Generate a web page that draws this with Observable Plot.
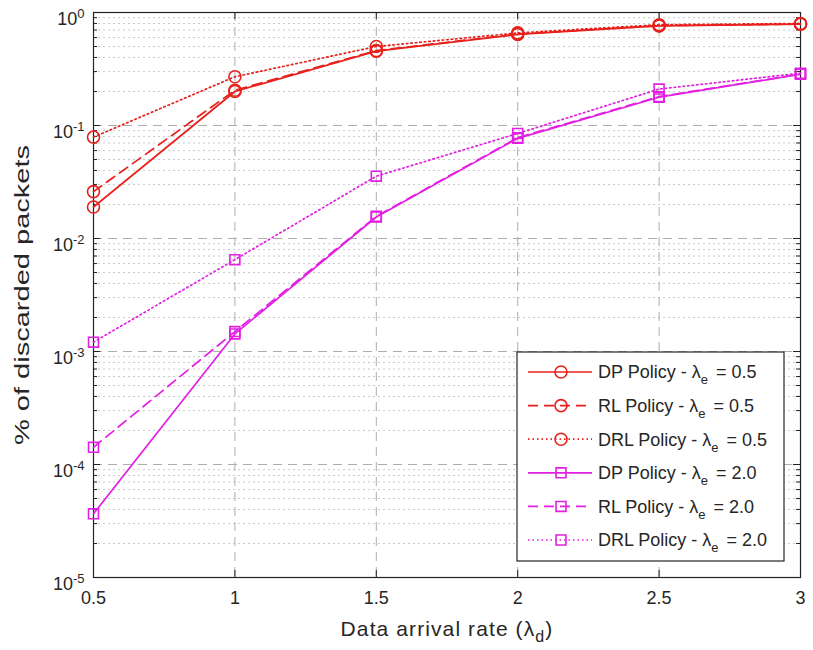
<!DOCTYPE html>
<html>
<head>
<meta charset="utf-8">
<script src="https://cdn.jsdelivr.net/npm/d3@7"></script>
<script src="https://cdn.jsdelivr.net/npm/@observablehq/plot@0.6"></script>
<style>
  html, body { margin: 0; padding: 0; background: #fff; }
  #chart { width: 813px; height: 650px; }
</style>
</head>
<body>
<div id="chart"></div>
<script>
// ---- data ----
const xVals = [0.5, 1, 1.5, 2, 2.5, 3];
const dpLow   = [0.019, 0.2, 0.455, 0.64, 0.76, 0.79];
const rlLow   = [0.026, 0.205, 0.46, 0.645, 0.765, 0.79];
const drlLow  = [0.079, 0.27, 0.5, 0.66, 0.78, 0.8];
const dpHigh  = [3.66e-5, 1.43e-3, 0.0155, 0.077, 0.178, 0.284];
const rlHigh  = [1.42e-4, 1.5e-3, 0.0157, 0.078, 0.18, 0.285];
const drlHigh = [1.21e-3, 6.5e-3, 0.0356, 0.085, 0.21, 0.29];

const seriesNames = [
  "DP Policy - λ_e = 0.5", "RL Policy - λ_e = 0.5", "DRL Policy - λ_e = 0.5",
  "DP Policy - λ_e = 2.0", "RL Policy - λ_e = 2.0", "DRL Policy - λ_e = 2.0"
];
const seriesValues = [dpLow, rlLow, drlLow, dpHigh, rlHigh, drlHigh];
const xTicks = [0.5, 1, 1.5, 2, 2.5, 3];
const yDecades = [1e-5, 1e-4, 1e-3, 1e-2, 1e-1, 1];
const xLabel = "Data arrival rate (λ_d)";
const yLabel = "% of discarded packets";

// ---- styles ----
const RED = "#e8201c", MAG = "#e21fe2";
const styles = [
  {stroke: RED, dash: null, symbol: "circle"},
  {stroke: RED, dash: "10,6", symbol: "circle"},
  {stroke: RED, dash: "1.5,3", symbol: "circle"},
  {stroke: MAG, dash: null, symbol: "square"},
  {stroke: MAG, dash: "10,6", symbol: "square"},
  {stroke: MAG, dash: "1.5,3", symbol: "square"}
];

const series = seriesNames.map((name, i) => xVals.map((x, j) => ({x, y: seriesValues[i][j], name})));

const minors = [];
for (let e = -5; e < 0; e++) for (let k = 2; k <= 9; k++) minors.push(k * Math.pow(10, e));
const innerMajors = yDecades.slice(1, -1);
const innerX = xTicks.slice(1, -1);

const W = 813, H = 650, mL = 93, mR = 13, mT = 12, mB = 73;
const pw = W - mL - mR, ph = H - mT - mB;

const marks = [
  Plot.ruleY(minors, {stroke: "#c9c9c9", strokeWidth: 1, strokeDasharray: "2,3"}),
  Plot.ruleY(innerMajors, {stroke: "#adadad", strokeWidth: 1, strokeDasharray: "9,6"}),
  Plot.ruleX(innerX, {stroke: "#adadad", strokeWidth: 1, strokeDasharray: "9,6"}),
  // inward ticks
  Plot.tickY(yDecades, {stroke: "#222", insetRight: pw - 7}),
  Plot.tickY(yDecades, {stroke: "#222", insetLeft: pw - 7}),
  Plot.tickY(minors, {stroke: "#222", insetRight: pw - 4}),
  Plot.tickY(minors, {stroke: "#222", insetLeft: pw - 4}),
  Plot.tickX(xTicks, {stroke: "#222", insetTop: ph - 7}),
  Plot.tickX(xTicks, {stroke: "#222", insetBottom: ph - 7}),
  Plot.frame({stroke: "#222", strokeWidth: 1.2}),
  Plot.axisX(xTicks, {tickSize: 0, tickPadding: 14, fontSize: 18, label: null, tickFormat: d => String(d)}),
  Plot.text(yDecades, {y: d => d, frameAnchor: "left", dx: -9, dy: 7, textAnchor: "end",
    fontSize: 18, text: d => "10^" + Math.round(Math.log10(d))}),
  Plot.text([yLabel], {frameAnchor: "left", dx: -71, rotate: -90, fontSize: 21, text: d => d}),
  Plot.text([xLabel], {frameAnchor: "bottom", dy: 58, fontSize: 21, text: d => d})
];
series.forEach((s, i) => {
  const st = styles[i];
  marks.push(Plot.line(s, {x: "x", y: "y", stroke: st.stroke, strokeWidth: 1.7,
    strokeDasharray: st.dash || undefined}));
  marks.push(Plot.dot(s, {x: "x", y: "y", stroke: st.stroke, strokeWidth: 1.6, fill: "none",
    symbol: st.symbol, r: st.symbol === "circle" ? 6 : 5.6}));
});

const chart = Plot.plot({
  width: W, height: H,
  marginLeft: mL, marginRight: mR, marginTop: mT, marginBottom: mB,
  style: {fontFamily: "Liberation Sans, Arial, sans-serif", color: "#262626", background: "#fff"},
  x: {domain: [0.5, 3], label: null},
  y: {type: "log", domain: [1e-5, 1], axis: null},
  marks
});
document.getElementById("chart").appendChild(chart);

// ---- superscripts / subscripts in real text ----
const svg = d3.select(chart);
svg.selectAll("text").each(function () {
  const t = this.textContent;
  const sel = d3.select(this);
  let m;
  if ((m = t.match(/^10\^(-?\d+)$/))) {
    sel.text(null);
    sel.append("tspan").text("10");
    sel.append("tspan").attr("dy", -7).attr("font-size", 13).text(m[1]);
  } else if (t === xLabel) {
    sel.text(null);
    sel.attr("letter-spacing", 1.1);
    sel.append("tspan").text("Data arrival rate (λ");
    sel.append("tspan").attr("dy", 6).attr("font-size", 16).text("d");
    sel.append("tspan").attr("dy", -6).text(")");
  } else if (t === yLabel) {
    sel.attr("text-anchor", "start").attr("x", -150)
      .attr("textLength", 300).attr("lengthAdjust", "spacingAndGlyphs");
  }
});

// ---- legend ----
const leg = svg.append("g").attr("font-family", "Liberation Sans, Arial, sans-serif")
  .attr("font-size", 18).attr("fill", "#262626").attr("text-anchor", "start");
const lx = 517, ly = 352, lw = 267, lh = 209;
leg.append("rect").attr("x", lx).attr("y", ly).attr("width", lw).attr("height", lh)
  .attr("fill", "#fff").attr("stroke", "#262626").attr("stroke-width", 1.2);
seriesNames.forEach((name, i) => {
  const st = styles[i];
  const cy = 372 + i * 33.6;
  leg.append("line").attr("x1", 528).attr("x2", 592).attr("y1", cy).attr("y2", cy)
    .attr("stroke", st.stroke).attr("stroke-width", 1.7)
    .attr("stroke-dasharray", st.dash || null);
  const sym = st.symbol === "circle" ? d3.symbolCircle : d3.symbolSquare;
  const r = st.symbol === "circle" ? 6 : 5.6;
  leg.append("path").attr("d", d3.symbol(sym, Math.PI * r * r)())
    .attr("transform", `translate(561,${cy})`).attr("fill", "none")
    .attr("stroke", st.stroke).attr("stroke-width", 1.6);
  const [pre, post] = name.split("λ_e");
  const txt = leg.append("text").attr("x", 598).attr("y", cy).attr("dy", "0.36em")
    .attr("text-anchor", "start");
  txt.append("tspan").text(pre + "λ");
  txt.append("tspan").attr("dy", 6).attr("font-size", 13).text("e");
  txt.append("tspan").attr("dy", -6).attr("dx", 3).text(post);
});
</script>
</body>
</html>
